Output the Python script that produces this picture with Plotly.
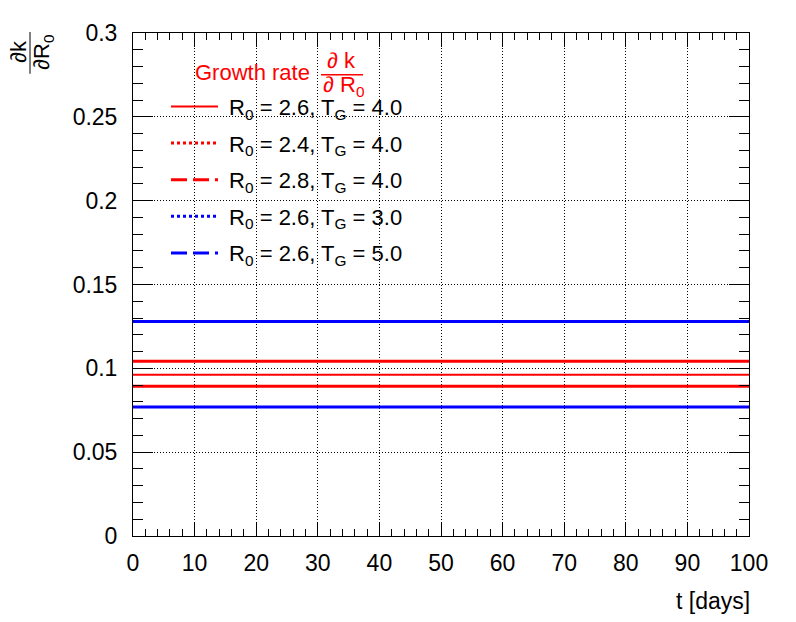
import plotly.graph_objects as go

# time axis (days) and the constant growth-rate derivative for each scenario
t_days = [0, 100]
labels = [
    "R<sub>0</sub> = 2.6, T<sub>G</sub> = 4.0",
    "R<sub>0</sub> = 2.4, T<sub>G</sub> = 4.0",
    "R<sub>0</sub> = 2.8, T<sub>G</sub> = 4.0",
    "R<sub>0</sub> = 2.6, T<sub>G</sub> = 3.0",
    "R<sub>0</sub> = 2.6, T<sub>G</sub> = 5.0",
]
dk_dr0_26_40 = [0.0962, 0.0962]
dk_dr0_24_40 = [0.1042, 0.1042]
dk_dr0_28_40 = [0.0893, 0.0893]
dk_dr0_26_30 = [0.1280, 0.1280]
dk_dr0_26_50 = [0.0770, 0.0770]

x_ticks = [0, 10, 20, 30, 40, 50, 60, 70, 80, 90, 100]
y_ticks = [0, 0.05, 0.1, 0.15, 0.2, 0.25, 0.3]

RED = "#ff0000"
BLUE = "#0000ff"
FONT = "Liberation Sans, Arial, Helvetica, sans-serif"

# the page body adds an 8px margin, so lay out in a slightly smaller figure
OFF = 8
W, H = 796 - OFF, 622 - OFF
# plot frame, in window pixels
PL, PR, PT, PB = 133, 749, 30, 536


def px_x(p):
    return (p - PL) / (PR - PL)


def px_y(p):
    return (PB - p) / (PB - PT)


series = [
    (dk_dr0_26_40, RED, 2, "solid"),
    (dk_dr0_24_40, RED, 3, "dot"),
    (dk_dr0_28_40, RED, 3, "16px,6px"),
    (dk_dr0_26_30, BLUE, 3, "dot"),
    (dk_dr0_26_50, BLUE, 3, "16px,6px"),
]

fig = go.Figure()

# drawn curves (ROOT draws these solid because of the dense point spacing)
for (vals, color, width, dash), name in zip(series, labels):
    fig.add_trace(go.Scatter(
        x=t_days, y=vals, mode="lines", name=name,
        line=dict(color=color, width=width), showlegend=False,
    ))

# legend entries carry the line styles
for i, ((vals, color, width, dash), name) in enumerate(zip(series, labels)):
    fig.add_trace(go.Scatter(
        x=[None], y=[None], mode="lines", name="\u00a0" + name,
        line=dict(color=color, width=width, dash=dash),
        legendgroup=f"g{i}",
    ))

axis_common = dict(
    showline=True, linecolor="black", linewidth=1, mirror="ticks",
    ticks="inside", tickcolor="black", tickwidth=1,
    showgrid=True, gridcolor="black", gridwidth=1, griddash="1px,2px",
    zeroline=False, tickfont=dict(family=FONT, size=23, color="black"),
)

fig.update_xaxes(
    range=[0, 100], tickvals=x_ticks, ticklen=14,
    minor=dict(ticks="inside", dtick=2, ticklen=7, tickcolor="black", showgrid=False),
    ticklabelstandoff=6, **axis_common,
)
fig.update_yaxes(
    range=[0, 0.3], tickvals=y_ticks, ticklen=20,
    minor=dict(ticks="inside", dtick=0.01, ticklen=10, tickcolor="black", showgrid=False),
    ticklabelstandoff=10, **axis_common,
)

# white legend box over the grid
fig.add_shape(type="rect", xref="paper", yref="paper",
              x0=px_x(164), x1=px_x(415), y0=px_y(277), y1=px_y(45),
              fillcolor="white", line_width=0, layer="between")

annotations = [
    dict(text="Growth rate", x=px_x(193), y=px_y(70), xanchor="left", yanchor="middle",
         font=dict(color=RED, size=22)),
    dict(text="∂ k", x=px_x(341), y=px_y(58), xanchor="center", yanchor="middle",
         font=dict(color=RED, size=22)),
    dict(text="∂ R<sub>0</sub>", x=px_x(343), y=px_y(83), xanchor="center", yanchor="middle",
         font=dict(color=RED, size=22)),
    dict(text="∂k", x=px_x(19), y=px_y(49), xanchor="center", yanchor="middle",
         textangle=-90, font=dict(color="black", size=22)),
    dict(text="∂R<sub>0</sub>", x=px_x(43), y=px_y(50), xanchor="center", yanchor="middle",
         textangle=-90, font=dict(color="black", size=22)),
    dict(text="t [days]", x=1, y=px_y(601), xanchor="right", yanchor="middle",
         xshift=3, font=dict(color="black", size=23)),
]
for a in annotations:
    fig.add_annotation(xref="paper", yref="paper", showarrow=False, **a)

# fraction bars
fig.add_shape(type="line", xref="paper", yref="paper",
              x0=px_x(321), x1=px_x(363), y0=px_y(72), y1=px_y(72),
              line=dict(color=RED, width=1.5))
fig.add_shape(type="line", xref="paper", yref="paper",
              x0=px_x(30), x1=px_x(30), y0=px_y(29), y1=px_y(71),
              line=dict(color="black", width=1))

fig.update_layout(
    width=W, height=H,
    margin=dict(l=PL - OFF, r=W - (PR - OFF), t=PT - OFF, b=H - (PB - OFF)),
    paper_bgcolor="white", plot_bgcolor="white",
    font=dict(family=FONT, size=22, color="black"),
    showlegend=True,
    legend=dict(
        x=px_x(166), y=px_y(83), xanchor="left", yanchor="top",
        bgcolor="rgba(0,0,0,0)", borderwidth=0,
        traceorder="grouped", tracegroupgap=5,
        font=dict(family=FONT, size=22, color="black"),
        itemwidth=47,
    ),
)

fig.write_html("out.html")
